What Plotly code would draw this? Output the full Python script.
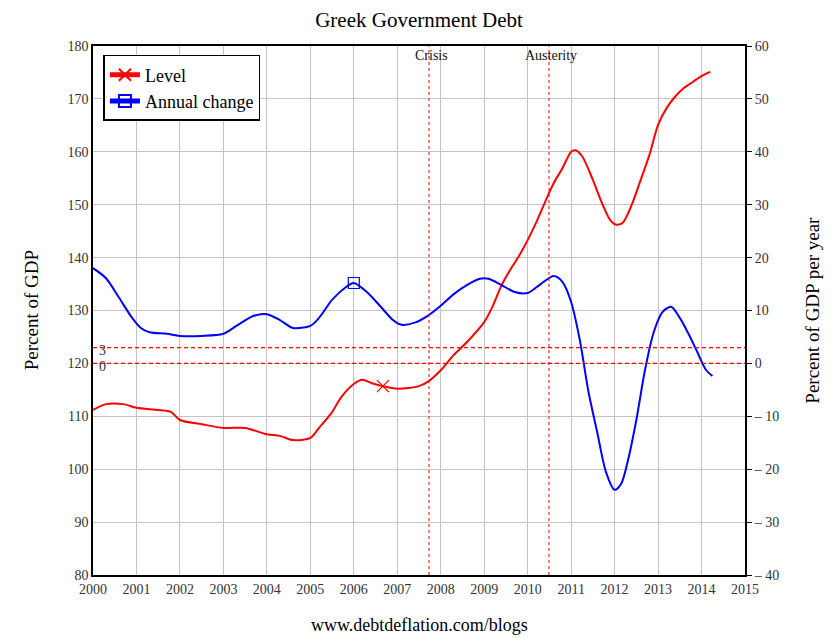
import plotly.graph_objects as go

# Level (percent of GDP), left axis
level_x = [2000.0, 2000.3, 2000.7, 2001.0, 2001.5, 2001.8, 2002.0, 2002.5, 2003.0, 2003.5,
           2004.0, 2004.3, 2004.6, 2005.0, 2005.2, 2005.5, 2005.7, 2006.0, 2006.2, 2006.4,
           2006.67, 2007.0, 2007.5, 2007.7, 2008.0, 2008.3, 2008.6, 2009.0, 2009.2, 2009.4,
           2009.6, 2009.8, 2010.0, 2010.2, 2010.4, 2010.6, 2010.8, 2011.0, 2011.1, 2011.25,
           2011.5, 2011.7, 2011.9, 2012.05, 2012.2, 2012.4, 2012.6, 2012.8, 2013.0, 2013.2,
           2013.4, 2013.6, 2013.8, 2014.0, 2014.2]
level_y = [111.2, 112.3, 112.3, 111.6, 111.2, 110.8, 109.3, 108.5, 107.8, 107.8,
           106.6, 106.3, 105.5, 105.9, 107.8, 110.8, 113.5, 116.1, 116.9, 116.3,
           115.7, 115.2, 115.7, 116.5, 118.7, 121.6, 124.0, 127.8, 130.9, 134.8,
           137.7, 140.3, 143.3, 146.7, 150.5, 154.1, 156.9, 160.0, 160.3, 159.2,
           154.7, 150.5, 147.1, 146.2, 146.7, 150.1, 154.7, 159.4, 165.1, 168.3,
           170.5, 172.1, 173.2, 174.3, 175.1]

# Annual change (percent of GDP per year), right axis
change_x = [2000.0, 2000.3, 2000.6, 2000.9, 2001.1, 2001.3, 2001.7, 2002.0, 2002.5, 2003.0,
            2003.3, 2003.7, 2004.0, 2004.3, 2004.6, 2005.0, 2005.2, 2005.5, 2005.8, 2006.0,
            2006.3, 2006.6, 2006.9, 2007.1, 2007.4, 2007.7, 2008.0, 2008.3, 2008.6, 2008.9,
            2009.1, 2009.4, 2009.7, 2010.0, 2010.3, 2010.6, 2010.8, 2011.0, 2011.2, 2011.4,
            2011.6, 2011.8, 2012.0, 2012.15, 2012.3, 2012.5, 2012.7, 2012.9, 2013.1, 2013.3,
            2013.5, 2013.7, 2013.9, 2014.1, 2014.25]
change_y = [18.0, 16.1, 12.4, 8.6, 6.7, 5.9, 5.6, 5.2, 5.2, 5.6,
            7.1, 9.0, 9.3, 8.2, 6.7, 7.1, 8.6, 12.0, 14.3, 15.2,
            13.5, 10.9, 8.2, 7.3, 7.7, 9.0, 10.9, 13.1, 14.8, 16.0,
            16.0, 14.8, 13.5, 13.3, 15.0, 16.5, 15.4, 11.6, 4.4, -5.4,
            -13.0, -20.5, -23.9, -22.8, -18.6, -10.7, -1.2, 5.9, 9.7, 10.7,
            8.6, 5.6, 2.2, -1.2, -2.4]

level_marker_x = [2006.67]
level_marker_y = [115.7]
change_marker_x = [2006.0]
change_marker_y = [15.2]

events = ["Crisis", "Austerity"]
event_x = [2007.73, 2010.49]
ref_levels = [3, 0]

x_ticks = list(range(2000, 2016))
left_ticks = list(range(80, 181, 10))
right_ticks = list(range(-40, 61, 10))
right_ticktext = [str(v) if v >= 0 else "\u2013 " + str(-v) for v in right_ticks]

FONT = "Liberation Serif, Times New Roman, serif"
RED = "#ff0000"
BLUE = "#0000ff"
TICK = "#333333"

fig = go.Figure()

shapes = []
for ex in event_x:
    shapes.append(dict(type="line", xref="x", yref="paper", x0=ex, x1=ex, y0=0, y1=1,
                       layer="above", line=dict(color=RED, width=1, dash="3px,3px")))
for lv in ref_levels:
    shapes.append(dict(type="line", xref="paper", yref="y2", x0=0, x1=1, y0=lv, y1=lv,
                       layer="above", line=dict(color=RED, width=1.2, dash="4px,3px")))

fig.add_trace(go.Scatter(x=level_x, y=level_y, mode="lines",
                         line=dict(color=RED, width=2, shape="spline", smoothing=0.8),
                         showlegend=False, yaxis="y"))
fig.add_trace(go.Scatter(x=change_x, y=change_y, mode="lines",
                         line=dict(color=BLUE, width=2, shape="spline", smoothing=0.8),
                         showlegend=False, yaxis="y2"))
fig.add_trace(go.Scatter(x=level_marker_x, y=level_marker_y, mode="markers",
                         marker=dict(symbol="x-thin-open", size=12, color=RED, line=dict(color=RED, width=1.2)),
                         showlegend=False, yaxis="y"))
fig.add_trace(go.Scatter(x=change_marker_x, y=change_marker_y, mode="markers",
                         marker=dict(symbol="square-open", size=11, color=BLUE, line=dict(color=BLUE, width=1.2)),
                         showlegend=False, yaxis="y2"))
# legend entries
fig.add_trace(go.Scatter(x=[None], y=[None], mode="lines+markers", name="Level",
                         line=dict(color=RED, width=2),
                         marker=dict(symbol="x-thin-open", size=12, color=RED, line=dict(color=RED, width=1.2))))
fig.add_trace(go.Scatter(x=[None], y=[None], mode="lines+markers", name="Annual change",
                         line=dict(color=BLUE, width=2),
                         marker=dict(symbol="square-open", size=10, color=BLUE, line=dict(color=BLUE, width=1.2))))

annotations = []
for name, ex in zip(events, event_x):
    annotations.append(dict(x=ex, y=1, xref="x", yref="paper", text=name, showarrow=False,
                            xanchor="center", yanchor="top", yshift=0, xshift=2,
                            font=dict(family=FONT, size=14, color="#111")))
for lv in ref_levels:
    annotations.append(dict(x=0.006, y=lv, xref="paper", yref="y2", text=str(lv), showarrow=False,
                            xanchor="left", yanchor="middle", yshift=-3,
                            font=dict(family=FONT, size=14, color="#333")))
annotations.append(dict(x=-0.094, y=0.5, xref="paper", yref="paper", text="Percent of GDP",
                        textangle=-90, showarrow=False, xanchor="center", yanchor="middle",
                        font=dict(family=FONT, size=19, color="#000")))
annotations.append(dict(x=1.103, y=0.5, xref="paper", yref="paper", text="Percent of GDP per year",
                        textangle=-90, showarrow=False, xanchor="center", yanchor="middle",
                        font=dict(family=FONT, size=19, color="#000")))
annotations.append(dict(x=0.5, y=-0.0945, xref="paper", yref="paper", text="www.debtdeflation.com/blogs",
                        showarrow=False, xanchor="center", yanchor="middle",
                        font=dict(family=FONT, size=18, color="#000")))

fig.update_layout(
    width=840, height=638,
    margin=dict(l=93, r=95, t=46, b=63),
    paper_bgcolor="white", plot_bgcolor="white",
    title=dict(text="Greek Government Debt", x=0.5, xref="paper", y=1 - 20 / 638, yanchor="middle",
               font=dict(family=FONT, size=21, color="#000")),
    font=dict(family=FONT, size=14, color=TICK),
    xaxis=dict(range=[2000, 2015], tickvals=x_ticks, ticktext=[str(v) for v in x_ticks],
               showgrid=True, gridcolor="#c4c4c4", gridwidth=1, zeroline=False,
               showline=True, linecolor="black", linewidth=1.5, mirror=True,
               ticks="", ticklen=0, tickfont=dict(family=FONT, size=14, color=TICK)),
    yaxis=dict(range=[80, 180], tickvals=left_ticks, showgrid=True, gridcolor="#c4c4c4",
               zeroline=False, showline=True, linecolor="black", linewidth=1.5, mirror=True,
               ticks="", tickfont=dict(family=FONT, size=14, color=TICK)),
    yaxis2=dict(range=[-40, 60], tickvals=right_ticks, ticktext=right_ticktext, overlaying="y",
                side="right", showgrid=False, zeroline=False, showline=False,
                ticks="outside", ticklen=6, tickcolor="black",
                tickfont=dict(family=FONT, size=14, color=TICK)),
    legend=dict(x=0.016, y=0.983, xanchor="left", yanchor="top", bgcolor="white",
                bordercolor="black", borderwidth=1.5,
                font=dict(family=FONT, size=18, color="#000"), tracegroupgap=0,
                itemwidth=30, itemsizing="constant"),
    shapes=shapes, annotations=annotations,
)

fig.write_html("out.html")
